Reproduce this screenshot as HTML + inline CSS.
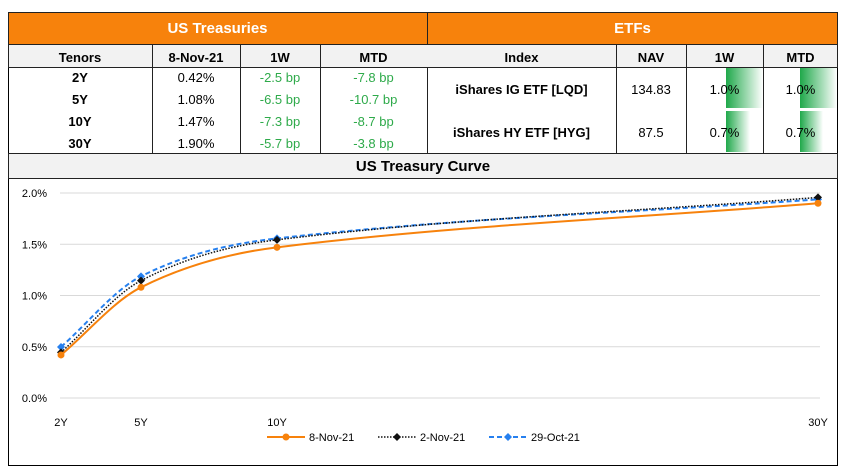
<!DOCTYPE html>
<html><head><meta charset="utf-8"><style>
body{margin:0;background:#fff;width:843px;height:470px;overflow:hidden;font-family:"Liberation Sans",sans-serif;}
.a{position:absolute;box-sizing:border-box;}
.t{position:absolute;text-align:center;font-size:13px;line-height:1;}
b{font-weight:bold}
.g{color:#2eaa4a}
</style></head><body>
<div class="a" style="left:8px;top:12px;width:830px;height:454px;border:1px solid #000"></div>
<div class="a" style="left:8px;top:12px;width:830px;height:33px;background:#f7820c;border:1px solid #222"></div>
<div class="a" style="left:427px;top:12px;width:1px;height:141px;background:#222"></div>
<div class="t" style="left:8px;width:419px;top:21px;color:#fff;font-size:15px;font-weight:bold">US Treasuries</div>
<div class="t" style="left:427px;width:411px;top:21px;color:#fff;font-size:15px;font-weight:bold">ETFs</div>
<div class="a" style="left:8px;top:45px;width:830px;height:23px;background:#f2f2f2;border-bottom:1px solid #222;border-left:1px solid #222;border-right:1px solid #222"></div>
<div class="a" style="left:152px;top:45px;width:1px;height:108px;background:#222"></div>
<div class="a" style="left:240px;top:45px;width:1px;height:108px;background:#222"></div>
<div class="a" style="left:320px;top:45px;width:1px;height:108px;background:#222"></div>
<div class="a" style="left:616px;top:45px;width:1px;height:108px;background:#222"></div>
<div class="a" style="left:686px;top:45px;width:1px;height:108px;background:#222"></div>
<div class="a" style="left:763px;top:45px;width:1px;height:108px;background:#222"></div>
<div class="a" style="left:726px;top:68px;width:37px;height:40px;background:linear-gradient(90deg,#1fa84a,#fff)"></div>
<div class="a" style="left:800px;top:68px;width:37px;height:40px;background:linear-gradient(90deg,#1fa84a,#fff)"></div>
<div class="a" style="left:726px;top:111px;width:24px;height:41px;background:linear-gradient(90deg,#1fa84a,#fff)"></div>
<div class="a" style="left:800px;top:111px;width:23px;height:41px;background:linear-gradient(90deg,#1fa84a,#fff)"></div>
<div class="t" style="left:8px;width:144px;top:51px"><b>Tenors</b></div>
<div class="t" style="left:152px;width:88px;top:51px"><b>8-Nov-21</b></div>
<div class="t" style="left:240px;width:80px;top:51px"><b>1W</b></div>
<div class="t" style="left:320px;width:107px;top:51px"><b>MTD</b></div>
<div class="t" style="left:427px;width:189px;top:51px"><b>Index</b></div>
<div class="t" style="left:616px;width:70px;top:51px"><b>NAV</b></div>
<div class="t" style="left:686px;width:77px;top:51px"><b>1W</b></div>
<div class="t" style="left:763px;width:75px;top:51px"><b>MTD</b></div>
<div class="t" style="left:8px;width:144px;top:67px;line-height:22px"><b>2Y<br>5Y<br>10Y<br>30Y</b></div>
<div class="t" style="left:152px;width:88px;top:67px;line-height:22px">0.42%<br>1.08%<br>1.47%<br>1.90%</div>
<div class="t g" style="left:240px;width:80px;top:67px;line-height:22px">-2.5 bp<br>-6.5 bp<br>-7.3 bp<br>-5.7 bp</div>
<div class="t g" style="left:320px;width:107px;top:67px;line-height:22px">-7.8 bp<br>-10.7 bp<br>-8.7 bp<br>-3.8 bp</div>
<div class="t" style="left:427px;width:189px;top:83px"><b>iShares IG ETF [LQD]</b></div>
<div class="t" style="left:427px;width:189px;top:126px"><b>iShares HY ETF [HYG]</b></div>
<div class="t" style="left:616px;width:70px;top:83px">134.83</div>
<div class="t" style="left:616px;width:70px;top:126px">87.5</div>
<div class="t" style="left:686px;width:77px;top:83px">1.0%</div>
<div class="t" style="left:686px;width:77px;top:126px">0.7%</div>
<div class="t" style="left:763px;width:75px;top:83px">1.0%</div>
<div class="t" style="left:763px;width:75px;top:126px">0.7%</div>
<div class="a" style="left:8px;top:153px;width:830px;height:26px;background:#f2f2f2;border:1px solid #222"></div>
<div class="t" style="left:8px;width:830px;top:159px;font-size:15px;font-weight:bold">US Treasury Curve</div>
<svg id="s" class="a" style="left:0;top:0" width="843" height="470" font-family="Liberation Sans, sans-serif" font-size="11"></svg>
<script>
var s=document.getElementById('s'),h='';
var X=[61,141,277,818];function Y(v){return 398-v*102.5;}
for(var i=0;i<5;i++){var y=398-i*51.25;h+='<line x1="60" x2="820" y1="'+y+'" y2="'+y+'" stroke="#d9d9d9"/>';h+='<text x="47" y="'+(y+4)+'" text-anchor="end">'+(i*0.5).toFixed(1)+'%</text>';}
['2Y','5Y','10Y','30Y'].forEach(function(l,i){h+='<text x="'+X[i]+'" y="426" text-anchor="middle">'+l+'</text>';});
function path(d){var p=X.map(function(x,i){return [x,Y(d[i])]});var n=p.length,m=[];
for(var i=0;i<n;i++){var a=p[Math.max(i-1,0)],c=p[Math.min(i+1,n-1)];m[i]=(c[1]-a[1])/(c[0]-a[0]);}
var r='M'+p[0];for(var i=0;i<n-1;i++){var b=p[i],c=p[i+1],dx=(c[0]-b[0])/3;r+=' C'+(b[0]+dx)+','+(b[1]+m[i]*dx)+' '+(c[0]-dx)+','+(c[1]-m[i+1]*dx)+' '+c;}return [r,p];}
var S=[[[0.42,1.08,1.47,1.90],'#f7820c','',2,'c'],[[0.445,1.145,1.543,1.957],'#111','1.5,1.5',1.5,'d'],[[0.498,1.187,1.557,1.938],'#2680ef','5,3',2,'d']];
S.slice().reverse().forEach(function(q){var r=path(q[0]);h+='<path d="'+r[0]+'" fill="none" stroke="'+q[1]+'" stroke-width="'+q[3]+'" stroke-dasharray="'+q[2]+'"/>';r[1].forEach(function(p){h+=q[4]=='c'?'<circle cx="'+p[0]+'" cy="'+p[1]+'" r="3.5" fill="'+q[1]+'"/>':'<path d="M'+p[0]+','+(p[1]-4)+' l4,4 -4,4 -4,-4z" fill="'+q[1]+'"/>';});});
var L=[[267,'8-Nov-21'],[378,'2-Nov-21'],[489,'29-Oct-21']];
L.forEach(function(l,i){var q=S[i],x=l[0];h+='<line x1="'+x+'" x2="'+(x+38)+'" y1="437" y2="437" stroke="'+q[1]+'" stroke-width="'+q[3]+'" stroke-dasharray="'+q[2]+'"/>';h+=q[4]=='c'?'<circle cx="'+(x+19)+'" cy="437" r="3.5" fill="'+q[1]+'"/>':'<path d="M'+(x+19)+',433 l4,4 -4,4 -4,-4z" fill="'+q[1]+'"/>';h+='<text x="'+(x+42)+'" y="441">'+l[1]+'</text>';});
s.innerHTML=h;
</script>
</body></html>
